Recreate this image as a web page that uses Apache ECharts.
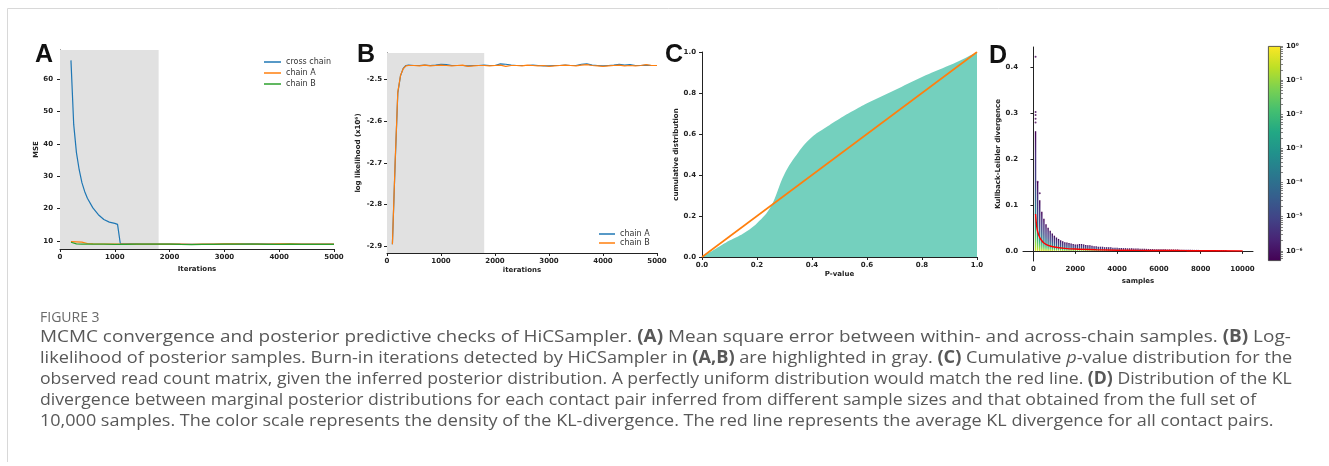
<!DOCTYPE html>
<html>
<head>
<meta charset="utf-8">
<script src="https://cdn.jsdelivr.net/npm/echarts@6/dist/echarts.min.js"></script>
<style>
html, body { margin: 0; padding: 0; background: #fff; }
#chart { width: 1329px; height: 466px; }
</style>
</head>
<body>
<div id="chart"></div>
<script>
// ---- panel A : MSE ----
var burnIn = 1800;
var crossX = [200, 250, 300, 350, 400, 450, 500, 600, 700, 800, 900, 1000, 1050, 1100, 1500, 2000, 2500, 3000, 3500, 4000, 4500, 5000];
var crossY = [65.8, 46.0, 37.3, 32.0, 28.0, 25.3, 23.2, 20.2, 18.1, 16.6, 15.8, 15.4, 15.1, 9.2, 9.0, 9.0, 8.9, 9.0, 9.1, 9.0, 9.0, 9.0];
var chainX = [200, 300, 400, 500, 600, 800, 1000, 1200, 1400, 1600, 1800, 2000, 2200, 2400, 2600, 2800, 3000, 3200, 3400, 3600, 3800, 4000, 4200, 4400, 4600, 4800, 5000];
var chainAY = [9.8, 9.7, 9.6, 9.2, 9.1, 9.05, 9.0, 9.0, 9.0, 9.05, 9.0, 9.0, 9.0, 8.95, 9.0, 9.05, 9.1, 9.1, 9.05, 9.0, 9.0, 9.1, 9.1, 9.05, 9.0, 9.0, 9.0];
var chainBY = [9.6, 9.1, 9.0, 9.0, 9.0, 9.0, 8.95, 8.95, 9.0, 9.0, 9.0, 9.0, 8.9, 8.85, 8.9, 8.95, 9.0, 9.0, 9.05, 9.0, 8.95, 8.95, 9.0, 8.95, 8.9, 8.95, 8.95];

// ---- panel B : log likelihood ----
var llX = [100, 150, 200, 250, 300, 350, 400,
  500, 600, 700, 800, 900, 1000, 1100, 1200, 1300, 1400, 1500, 1600, 1700, 1800, 1900, 2000,
  2100, 2200, 2300, 2400, 2500, 2600, 2700, 2800, 2900, 3000, 3100, 3200, 3300, 3400, 3500,
  3600, 3700, 3800, 3900, 4000, 4100, 4200, 4300, 4400, 4500, 4600, 4700, 4800, 4900, 5000];
var llA = [-2.895, -2.705, -2.532, -2.491, -2.473, -2.466, -2.465,
  -2.466, -2.466, -2.465, -2.466, -2.465, -2.463, -2.464, -2.466, -2.466, -2.466, -2.467, -2.466, -2.466, -2.465, -2.466, -2.466,
  -2.462, -2.463, -2.465, -2.466, -2.466, -2.466, -2.465, -2.466, -2.467, -2.467, -2.466, -2.466, -2.465, -2.466, -2.466,
  -2.463, -2.462, -2.465, -2.466, -2.467, -2.466, -2.465, -2.463, -2.465, -2.464, -2.466, -2.466, -2.465, -2.466, -2.466];
var llB = [-2.895, -2.700, -2.530, -2.490, -2.474, -2.467, -2.466,
  -2.466, -2.467, -2.465, -2.467, -2.466, -2.465, -2.466, -2.467, -2.466, -2.465, -2.468, -2.467, -2.466, -2.466, -2.467, -2.466,
  -2.465, -2.468, -2.466, -2.466, -2.467, -2.465, -2.466, -2.467, -2.466, -2.468, -2.467, -2.466, -2.465, -2.466, -2.467,
  -2.465, -2.464, -2.466, -2.467, -2.468, -2.467, -2.466, -2.465, -2.467, -2.466, -2.467, -2.466, -2.464, -2.466, -2.466];

// ---- panel C : cumulative p-value distribution ----
var pX = [0, 0.05, 0.1, 0.15, 0.2, 0.25, 0.3, 0.35, 0.4, 0.45, 0.5, 0.55, 0.6, 0.65, 0.7, 0.75, 0.8, 0.85, 0.9, 0.95, 1.0];
var pCdf = [0, 0.04, 0.08, 0.115, 0.165, 0.245, 0.405, 0.51, 0.585, 0.632, 0.675, 0.713, 0.75, 0.782, 0.813, 0.846, 0.878, 0.907, 0.935, 0.966, 1.0];

// ---- panel D : KL divergence ----
var sampleSizes = [];
for (var s = 100; s <= 9200; s += 100) sampleSizes.push(s);
var klTop = [0.26, 0.15, 0.11, 0.085, 0.07, 0.058, 0.05, 0.044, 0.038, 0.033,
  0.029, 0.026, 0.023, 0.021, 0.019, 0.018, 0.017, 0.016, 0.015, 0.014,
  0.014, 0.015, 0.015, 0.014, 0.013, 0.012, 0.012, 0.011, 0.010, 0.010,
  0.009, 0.009, 0.009, 0.008, 0.008, 0.008, 0.008, 0.007, 0.007, 0.007,
  0.0065, 0.006, 0.006, 0.006, 0.0055, 0.0055, 0.0055, 0.005, 0.005, 0.005,
  0.0048, 0.0046, 0.0045, 0.0044, 0.0042, 0.004, 0.004, 0.0038, 0.0037, 0.0036,
  0.0035, 0.0034, 0.0033, 0.0032, 0.0031, 0.003, 0.003, 0.0029, 0.0028, 0.0027,
  0.0026, 0.0026, 0.0025, 0.0024, 0.0024, 0.0023, 0.0022, 0.0022, 0.0021, 0.002,
  0.002, 0.0019, 0.0019, 0.0018, 0.0018, 0.0017, 0.0017, 0.0016, 0.0016, 0.0015, 0.0015, 0.0015];
var klOutX = [100, 100, 100, 100, 100, 200, 300];
var klOutY = [0.422, 0.302, 0.295, 0.287, 0.279, 0.15, 0.125];
var klMeanX = [100, 150, 200, 300, 400, 500, 700, 1000, 1500, 2000, 3000, 4000, 5000, 6000, 7300, 7400, 10000];
var klMeanY = [0.08, 0.055, 0.042, 0.029, 0.022, 0.017, 0.012, 0.0085, 0.0055, 0.004, 0.0025, 0.0015, 0.001, 0.0008, 0.0006, 0.0002, 0.0001];
var cbarExp = [-6, -5, -4, -3, -2, -1, 0];

var captionLines = [
  'MCMC convergence and posterior predictive checks of HiCSampler. {b|(A)} Mean square error between within- and across-chain samples. {b|(B)} Log-',
  'likelihood of posterior samples. Burn-in iterations detected by HiCSampler in {b|(A,B)} are highlighted in gray. {b|(C)} Cumulative {i|p}-value distribution for the',
  'observed read count matrix, given the inferred posterior distribution. A perfectly uniform distribution would match the red line. {b|(D)} Distribution of the KL',
  'divergence between marginal posterior distributions for each contact pair inferred from different sample sizes and that obtained from the full set of',
  '10,000 samples. The color scale represents the density of the KL-divergence. The red line represents the average KL divergence for all contact pairs.'
];
// horizontal stretch per caption line so each ends where the printed line ends
var captionStretch = [1.114, 1.068, 1.036, 1.040, 1.060];

function zip(xs, ys) {
  return xs.map(function (x, i) { return [x, ys[i]]; });
}

var viridis = ['#440154', '#482475', '#414487', '#355f8d', '#2a788e', '#21918c', '#22a884', '#44bf70', '#7ad151', '#bddf26', '#fde725'];
var supMap = { '-': '\u207b', '0': '\u2070', '1': '\u00b9', '2': '\u00b2', '3': '\u00b3', '4': '\u2074', '5': '\u2075', '6': '\u2076' };
function sup(n) {
  return String(n).split('').map(function (c) { return supMap[c]; }).join('');
}
function plain(v) { return String(v); }
function oneDec(v) { return v.toFixed(1); }

var tickFont = { fontSize: 7, fontWeight: 'bold', fontFamily: 'DejaVu Sans', color: '#222' };
var nameFont = { fontSize: 7, fontWeight: 'bold', fontFamily: 'DejaVu Sans', color: '#222' };
function baseAxis(extra) {
  var ax = {
    type: 'value',
    axisLine: { show: true, lineStyle: { color: '#222', width: 1 } },
    axisTick: { show: true, length: 3, lineStyle: { color: '#222' } },
    splitLine: { show: false },
    axisLabel: Object.assign({ margin: 5, formatter: plain }, tickFont),
    nameTextStyle: nameFont,
    nameLocation: 'middle'
  };
  for (var k in extra) {
    if (typeof extra[k] === 'object' && ax[k] && !Array.isArray(extra[k])) ax[k] = Object.assign({}, ax[k], extra[k]);
    else ax[k] = extra[k];
  }
  return ax;
}

var minorLog = [];
for (var e = -7; e <= 0; e++) {
  for (var m = 2; m <= 9; m++) {
    var v = e + Math.log10(m);
    if (v >= -6.3 && v <= 0) minorLog.push(v);
  }
}

var letters = [['A', 35, 55.5], ['B', 357, 55.5], ['C', 665, 55.5], ['D', 989, 56]];

var graphic = [
  { type: 'line', shape: { x1: 7.5, y1: 8.5, x2: 1329, y2: 8.5 }, style: { stroke: '#d8d8d8', lineWidth: 1 } },
  { type: 'line', shape: { x1: 7.5, y1: 8.5, x2: 7.5, y2: 462 }, style: { stroke: '#d8d8d8', lineWidth: 1 } },
  { type: 'text', x: 40, y: 318, style: { text: 'FIGURE 3', fontSize: 14, fontFamily: 'Open Sans', fill: '#6a6a6a', textVerticalAlign: 'middle' } }
];
letters.forEach(function (l) {
  graphic.push({ type: 'text', x: l[1], y: l[2], z: 10, style: { text: l[0], fontSize: 25, fontWeight: 'bold', fontFamily: 'Liberation Sans', fill: '#111', textVerticalAlign: 'middle' } });
});
captionLines.forEach(function (t, i) {
  graphic.push({
    type: 'text', x: 40, y: 337 + i * 21, scaleX: captionStretch[i],
    style: {
      text: t, fontSize: 17, fontFamily: 'Open Sans', fill: '#585858', textVerticalAlign: 'middle',
      rich: {
        b: { fontSize: 17, fontFamily: 'Open Sans', fontWeight: 'bold', fill: '#585858' },
        i: { fontSize: 17, fontFamily: 'Open Sans', fontStyle: 'italic', fill: '#585858' }
      }
    }
  });
});

var option = {
  animation: false,
  backgroundColor: '#fff',
  grid: [
    { left: 60, top: 50, width: 274, height: 199 },
    { left: 387, top: 53, width: 270, height: 200 },
    { left: 702, top: 52, width: 275, height: 205 },
    { left: 1023, top: 47, width: 230, height: 214 },
    { left: 1268, top: 46, width: 13, height: 215 }
  ],
  xAxis: [
    baseAxis({ gridIndex: 0, min: 0, max: 5000, interval: 1000, name: 'Iterations', nameGap: 17 }),
    baseAxis({ gridIndex: 1, min: 0, max: 5000, interval: 1000, name: 'iterations', nameGap: 14 }),
    baseAxis({ gridIndex: 2, min: 0, max: 1, interval: 0.2, name: 'P-value', nameGap: 14,
      axisLabel: { formatter: oneDec } }),
    baseAxis({ gridIndex: 3, min: -500, max: 10500, name: 'samples', nameGap: 17,
      axisLabel: { customValues: [0, 2000, 4000, 6000, 8000, 10000] },
      axisTick: { customValues: [0, 2000, 4000, 6000, 8000, 10000] } }),
    { type: 'category', gridIndex: 4, data: ['cbar'], show: false }
  ],
  yAxis: [
    baseAxis({ gridIndex: 0, min: 7.5, max: 69, name: 'MSE', nameGap: 19,
      axisLabel: { margin: 7, customValues: [10, 20, 30, 40, 50, 60] },
      axisTick: { customValues: [10, 20, 30, 40, 50, 60] } }),
    baseAxis({ gridIndex: 1, min: -2.916, max: -2.436, name: 'log likelihood (x10\u2076)', nameGap: 25,
      axisLabel: { customValues: [-2.9, -2.8, -2.7, -2.6, -2.5], formatter: oneDec },
      axisTick: { customValues: [-2.9, -2.8, -2.7, -2.6, -2.5] } }),
    baseAxis({ gridIndex: 2, min: 0, max: 1, interval: 0.2, name: 'cumulative distribution', nameGap: 20,
      axisLabel: { margin: 6, formatter: oneDec } }),
    baseAxis({ gridIndex: 3, min: -0.022, max: 0.443, name: 'Kullback-Leibler divergence', nameGap: 21,
      axisLabel: { customValues: [0, 0.1, 0.2, 0.3, 0.4], formatter: oneDec },
      axisTick: { customValues: [0, 0.1, 0.2, 0.3, 0.4] } }),
    {
      type: 'value', gridIndex: 4, min: -6.3, max: 0, position: 'right',
      axisLine: { show: false },
      splitLine: { show: false },
      axisTick: { show: true, length: 2, lineStyle: { color: '#333', width: 0.6 }, customValues: cbarExp.concat(minorLog) },
      axisLabel: Object.assign({ margin: 5, customValues: cbarExp, formatter: function (v) { return '10' + sup(v); } }, tickFont)
    }
  ],
  legend: [
    {
      data: ['cross chain', 'chain A', 'chain B'], orient: 'vertical', left: 259, top: 53,
      icon: 'rect', itemWidth: 17, itemHeight: 1.5, itemGap: 3,
      textStyle: { fontSize: 8, color: '#333', fontFamily: 'DejaVu Sans' }
    },
    {
      data: ['chain A ', 'chain B '], orient: 'vertical', left: 594, top: 225,
      icon: 'rect', itemWidth: 16, itemHeight: 1.5, itemGap: 1,
      textStyle: { fontSize: 8, color: '#333', fontFamily: 'DejaVu Sans' }
    }
  ],
  graphic: graphic,
  series: [
    {
      name: 'cross chain', type: 'line', xAxisIndex: 0, yAxisIndex: 0, data: zip(crossX, crossY),
      showSymbol: false, color: '#1f77b4', lineStyle: { width: 1.2 },
      markArea: { silent: true, itemStyle: { color: '#e1e1e1' }, data: [[{ xAxis: 0 }, { xAxis: burnIn }]] }
    },
    { name: 'chain A', type: 'line', xAxisIndex: 0, yAxisIndex: 0, data: zip(chainX, chainAY), showSymbol: false, color: '#ff7f0e', lineStyle: { width: 1.2 } },
    { name: 'chain B', type: 'line', xAxisIndex: 0, yAxisIndex: 0, data: zip(chainX, chainBY), showSymbol: false, color: '#2ca02c', lineStyle: { width: 1.2 } },
    {
      name: 'chain A ', type: 'line', xAxisIndex: 1, yAxisIndex: 1, data: zip(llX, llA),
      showSymbol: false, color: '#1f77b4', lineStyle: { width: 1.2 },
      markArea: { silent: true, itemStyle: { color: '#e1e1e1' }, data: [[{ xAxis: 0 }, { xAxis: burnIn }]] }
    },
    { name: 'chain B ', type: 'line', xAxisIndex: 1, yAxisIndex: 1, data: zip(llX, llB), showSymbol: false, color: '#ff7f0e', lineStyle: { width: 1.2 } },
    {
      name: 'p-value cdf', type: 'line', xAxisIndex: 2, yAxisIndex: 2, data: zip(pX, pCdf), smooth: 0.4,
      showSymbol: false, lineStyle: { width: 0 }, color: '#74d0be', areaStyle: { color: '#74d0be', opacity: 1 }
    },
    { name: 'uniform', type: 'line', xAxisIndex: 2, yAxisIndex: 2, data: [[0, 0], [1, 1]], showSymbol: false, color: '#ff7f0e', lineStyle: { width: 1.6 } },
    {
      name: 'KL', type: 'bar', xAxisIndex: 3, yAxisIndex: 3, data: zip(sampleSizes, klTop), barWidth: 1.4,
      itemStyle: {
        color: {
          type: 'linear', x: 0, y: 1, x2: 0, y2: 0,
          colorStops: [
            { offset: 0, color: '#d5e21a' }, { offset: 0.08, color: '#7ad151' }, { offset: 0.2, color: '#22a884' },
            { offset: 0.35, color: '#2a788e' }, { offset: 0.55, color: '#414487' }, { offset: 0.8, color: '#472d7b' }, { offset: 1, color: '#440154' }
          ]
        }
      }
    },
    { name: 'KL outliers', type: 'scatter', xAxisIndex: 3, yAxisIndex: 3, data: zip(klOutX, klOutY), symbolSize: 2, color: '#440154' },
    { name: 'KL mean', type: 'line', xAxisIndex: 3, yAxisIndex: 3, data: zip(klMeanX, klMeanY), showSymbol: false, smooth: 0.3, color: '#ff0000', lineStyle: { width: 1.4 }, z: 5 },
    {
      name: 'colorbar', type: 'bar', xAxisIndex: 4, yAxisIndex: 4, data: [-6.3], barWidth: '100%', silent: true,
      itemStyle: {
        borderColor: '#333', borderWidth: 0.8,
        color: {
          type: 'linear', x: 0, y: 0, x2: 0, y2: 1,
          colorStops: viridis.slice().reverse().map(function (c, i) { return { offset: i / (viridis.length - 1), color: c }; })
        }
      }
    }
  ]
};

var chart = echarts.init(document.getElementById('chart'));
chart.setOption(option);
</script>
</body>
</html>
